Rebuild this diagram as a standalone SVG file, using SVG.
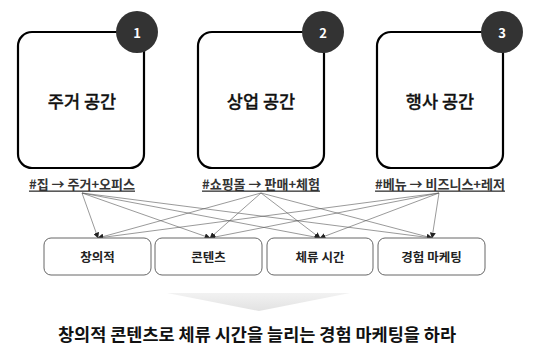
<svg xmlns="http://www.w3.org/2000/svg" width="535" height="362" viewBox="0 0 535 362">
<style>
text{font-family:"Noto Sans CJK KR","Noto Sans",sans-serif;text-anchor:middle;dominant-baseline:central}
.big{fill:none;stroke:#000;stroke-width:2.2}
.badge{fill:#333}
.num{fill:#fff;font-size:13px;font-weight:bold}
.title{font-family:"Noto Sans CJK KR Medium","Noto Sans CJK KR",sans-serif;font-size:17.5px;font-weight:500;fill:#111;stroke:#111;stroke-width:0.3}
.tag{font-size:13px;font-weight:bold;fill:#333;text-decoration:underline}
.sm{fill:#fff;stroke:#666;stroke-width:1}
.smt{font-size:12.5px;font-weight:bold;fill:#222}
.con line{stroke:#555;stroke-width:0.6;marker-end:url(#ah)}
.msg{font-size:17.5px;font-weight:bold;fill:#111}
</style>
<defs>
<marker id="ah" viewBox="0 0 10 10" refX="9" refY="5" markerWidth="6" markerHeight="6" markerUnits="userSpaceOnUse" orient="auto">
<path d="M0,0 L10,5 L0,10 z" fill="#222"/>
</marker>
<linearGradient id="tri" x1="0" y1="0" x2="0" y2="1">
<stop offset="0" stop-color="#f2f2f2"/>
<stop offset="1" stop-color="#e2e2e2"/>
</linearGradient>
</defs>
<g id="node1">
<rect class="big" x="18" y="32" width="126" height="136" rx="14"/>
<circle class="badge" cx="137" cy="32" r="21"/>
<text class="num" x="137" y="32">1</text>
<text class="title" x="82" y="100">주거 공간</text>
<text class="tag" x="82" y="183">#집 → 주거+오피스</text>
</g>
<g id="node2">
<rect class="big" x="198" y="32" width="126" height="136" rx="14"/>
<circle class="badge" cx="323" cy="32" r="21"/>
<text class="num" x="323" y="32">2</text>
<text class="title" x="261" y="100">상업 공간</text>
<text class="tag" x="261" y="183">#쇼핑몰 → 판매+체험</text>
</g>
<g id="node3">
<rect class="big" x="377" y="32" width="126" height="136" rx="14"/>
<circle class="badge" cx="502" cy="32" r="21"/>
<text class="num" x="502" y="32">3</text>
<text class="title" x="440" y="100">행사 공간</text>
<text class="tag" x="440" y="183">#베뉴 → 비즈니스+레저</text>
</g>
<g id="connectors" class="con">
<line x1="82" y1="193" x2="98" y2="238"/>
<line x1="82" y1="193" x2="210" y2="238"/>
<line x1="82" y1="193" x2="320" y2="238"/>
<line x1="82" y1="193" x2="432" y2="238"/>
<line x1="261" y1="193" x2="98" y2="238"/>
<line x1="261" y1="193" x2="210" y2="238"/>
<line x1="261" y1="193" x2="320" y2="238"/>
<line x1="261" y1="193" x2="432" y2="238"/>
<line x1="439" y1="193" x2="98" y2="238"/>
<line x1="439" y1="193" x2="210" y2="238"/>
<line x1="439" y1="193" x2="320" y2="238"/>
<line x1="439" y1="193" x2="432" y2="238"/>
</g>
<g id="k1"><rect class="sm" x="44" y="238" width="107" height="37" rx="7"/><text class="smt" x="97.5" y="256.5">창의적</text></g>
<g id="k2"><rect class="sm" x="155" y="238" width="107" height="37" rx="7"/><text class="smt" x="208.5" y="256.5">콘텐츠</text></g>
<g id="k3"><rect class="sm" x="267" y="238" width="106" height="37" rx="7"/><text class="smt" x="320" y="256.5">체류 시간</text></g>
<g id="k4"><rect class="sm" x="378" y="238" width="107" height="37" rx="7"/><text class="smt" x="431.5" y="256.5">경험 마케팅</text></g>
<g id="down"><path d="M167,293 L350,293 L259,311 z" fill="url(#tri)"/></g>
<g id="message"><text class="msg" x="257" y="333">창의적 콘텐츠로 체류 시간을 늘리는 경험 마케팅을 하라</text></g>
</svg>
